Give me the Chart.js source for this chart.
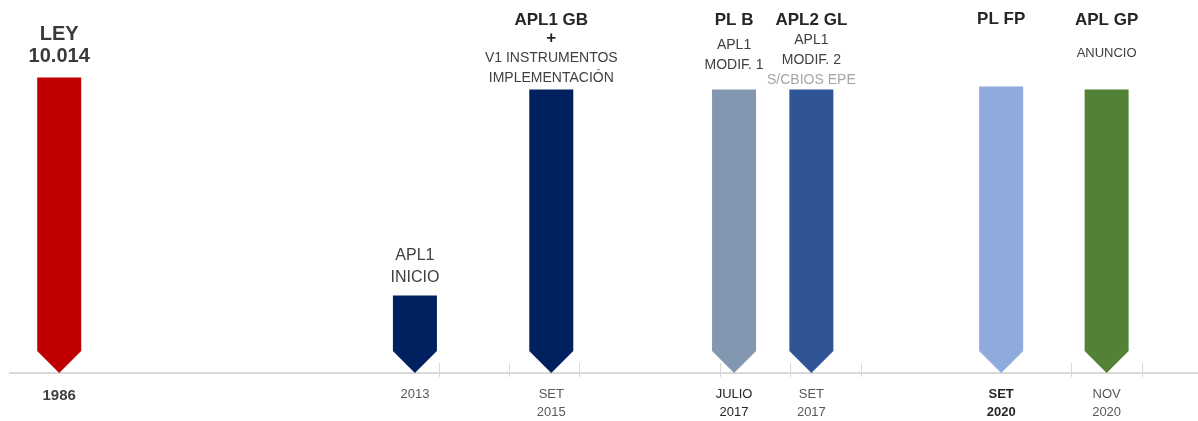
<!DOCTYPE html>
<html>
<head>
<meta charset="utf-8">
<script src="https://cdn.jsdelivr.net/npm/chart.js@4/dist/chart.umd.min.js"></script>
<style>
  html, body { margin: 0; padding: 0; background: #ffffff; }
  #wrap { width: 1198px; height: 421px; }
</style>
</head>
<body>
<div id="wrap"><canvas id="c" width="1198" height="421"></canvas></div>
<script>
// ---- DATA ----
const events = ['LEY 10.014', 'APL1 INICIO', 'APL1 GB', 'PL B', 'APL2 GL', 'PL FP', 'APL GP'];
const timelinePos = [0.6, 5.66, 7.6, 10.2, 11.3, 14.0, 15.5];        // position on the timeline axis
const barHeights = [99, 26, 95, 95, 95, 96, 95];                       // relative bar heights
const dateLabels = [['1986'], ['2013'], ['SET', '2015'], ['JULIO', '2017'], ['SET', '2017'], ['SET', '2020'], ['NOV', '2020']];
const annotations = [
  ['LEY', '10.014'],
  ['APL1', 'INICIO'],
  ['APL1 GB', '+', 'V1 INSTRUMENTOS', 'IMPLEMENTACIÓN'],
  ['PL B', 'APL1', 'MODIF. 1'],
  ['APL2 GL', 'APL1', 'MODIF. 2', 'S/CBIOS EPE'],
  ['PL FP'],
  ['APL GP', 'ANUNCIO']
];
const axisMarks = [6, 7, 8, 10, 11, 12, 15, 16];

// ---- STYLE ----
const barColors = ['#C00000', '#002060', '#002060', '#8497B0', '#2F5597', '#8FAADC', '#538135'];
const FONT = "'Liberation Sans', Arial, sans-serif";
// per-line style: [font, color, offset above bar top]
const annStyle = [
  [['bold 20px', '#3a3a3a', -43], ['bold 20px', '#3a3a3a', -21]],
  [['16px', '#404040', -40], ['16px', '#404040', -18]],
  [['bold 17px', '#262626', -69], ['bold 17px', '#262626', -51], ['14px', '#404040', -31], ['14px', '#404040', -11]],
  [['bold 17px', '#262626', -69], ['14px', '#404040', -44], ['14px', '#404040', -24]],
  [['bold 17px', '#262626', -69], ['14px', '#404040', -49], ['14px', '#404040', -29], ['14px', '#a6a6a6', -9]],
  [['bold 17px', '#262626', -67]],
  [['bold 17px', '#262626', -69], ['13px', '#404040', -36]]
];

const arrowPlugin = {
  id: 'arrows',
  beforeDatasetDraw(chart) { return false; },
  afterDatasetsDraw(chart) {
    const ctx = chart.ctx;
    const meta = chart.getDatasetMeta(0);
    // axis marks
    const xs = chart.scales.x;
    const axisY = chart.chartArea.bottom;
    ctx.save();
    ctx.strokeStyle = '#d9d9d9';
    ctx.lineWidth = 1;
    axisMarks.forEach(v => {
      const px = Math.round(xs.getPixelForValue(v)) + 0.5;
      ctx.beginPath();
      ctx.moveTo(px, axisY - 10);
      ctx.lineTo(px, axisY + 4);
      ctx.stroke();
    });
    ctx.restore();

    meta.data.forEach((bar, i) => {
      const p = bar.getProps(['x', 'y', 'base', 'width'], true);
      const hw = p.width / 2;
      const top = p.y, base = p.base;
      ctx.save();
      ctx.fillStyle = barColors[i];
      ctx.beginPath();
      ctx.moveTo(p.x - hw, top);
      ctx.lineTo(p.x + hw, top);
      ctx.lineTo(p.x + hw, base - hw);
      ctx.lineTo(p.x, base);
      ctx.lineTo(p.x - hw, base - hw);
      ctx.closePath();
      ctx.fill();
      ctx.restore();

      // annotations
      ctx.save();
      ctx.textAlign = 'center';
      ctx.textBaseline = 'middle';
      annotations[i].forEach((line, j) => {
        const st = annStyle[i][j];
        ctx.font = st[0] + ' ' + FONT;
        ctx.fillStyle = st[1];
        ctx.fillText(line, p.x, top + st[2]);
      });
      ctx.restore();
    });
  }
};

new Chart(document.getElementById('c'), {
  type: 'bar',
  data: {
    datasets: [{
      label: 'Hitos',
      data: timelinePos.map((x, i) => ({ x: x, y: barHeights[i] })),
      backgroundColor: barColors,
      barThickness: 44
    }]
  },
  options: {
    responsive: false,
    animation: false,
    events: [],
    layout: { padding: { left: 10, right: 0, top: 0, bottom: 0 } },
    plugins: { legend: { display: false }, tooltip: { enabled: false } },
    scales: {
      x: {
        type: 'linear',
        offset: false,
        min: -0.1,
        max: 16.8,
        afterBuildTicks: axis => { axis.ticks = timelinePos.map(v => ({ value: v })); },
        afterFit: axis => { axis.height = 48; },
        grid: { display: false, drawTicks: false },
        border: { display: true, color: '#d9d9d9', width: 2 },
        ticks: {
          autoSkip: false,
          maxRotation: 0,
          padding: 12,
          callback: (v, i) => dateLabels[i],
          font: ctx => {
            if (ctx.index === 0) return { family: FONT, size: 15, weight: 'bold', lineHeight: 1.4 };
            if (ctx.index === 5) return { family: FONT, size: 13, weight: '600', lineHeight: 1.4 };
            return { family: FONT, size: 13, weight: 'normal', lineHeight: 1.4 };
          },
          color: ctx => {
            if (ctx.index === 0) return '#404040';
            if (ctx.index === 5 || ctx.index === 3) return '#262626';
            return '#595959';
          }
        }
      },
      y: {
        display: false,
        min: 0,
        max: 125
      }
    }
  },
  plugins: [arrowPlugin]
});
</script>
</body>
</html>
